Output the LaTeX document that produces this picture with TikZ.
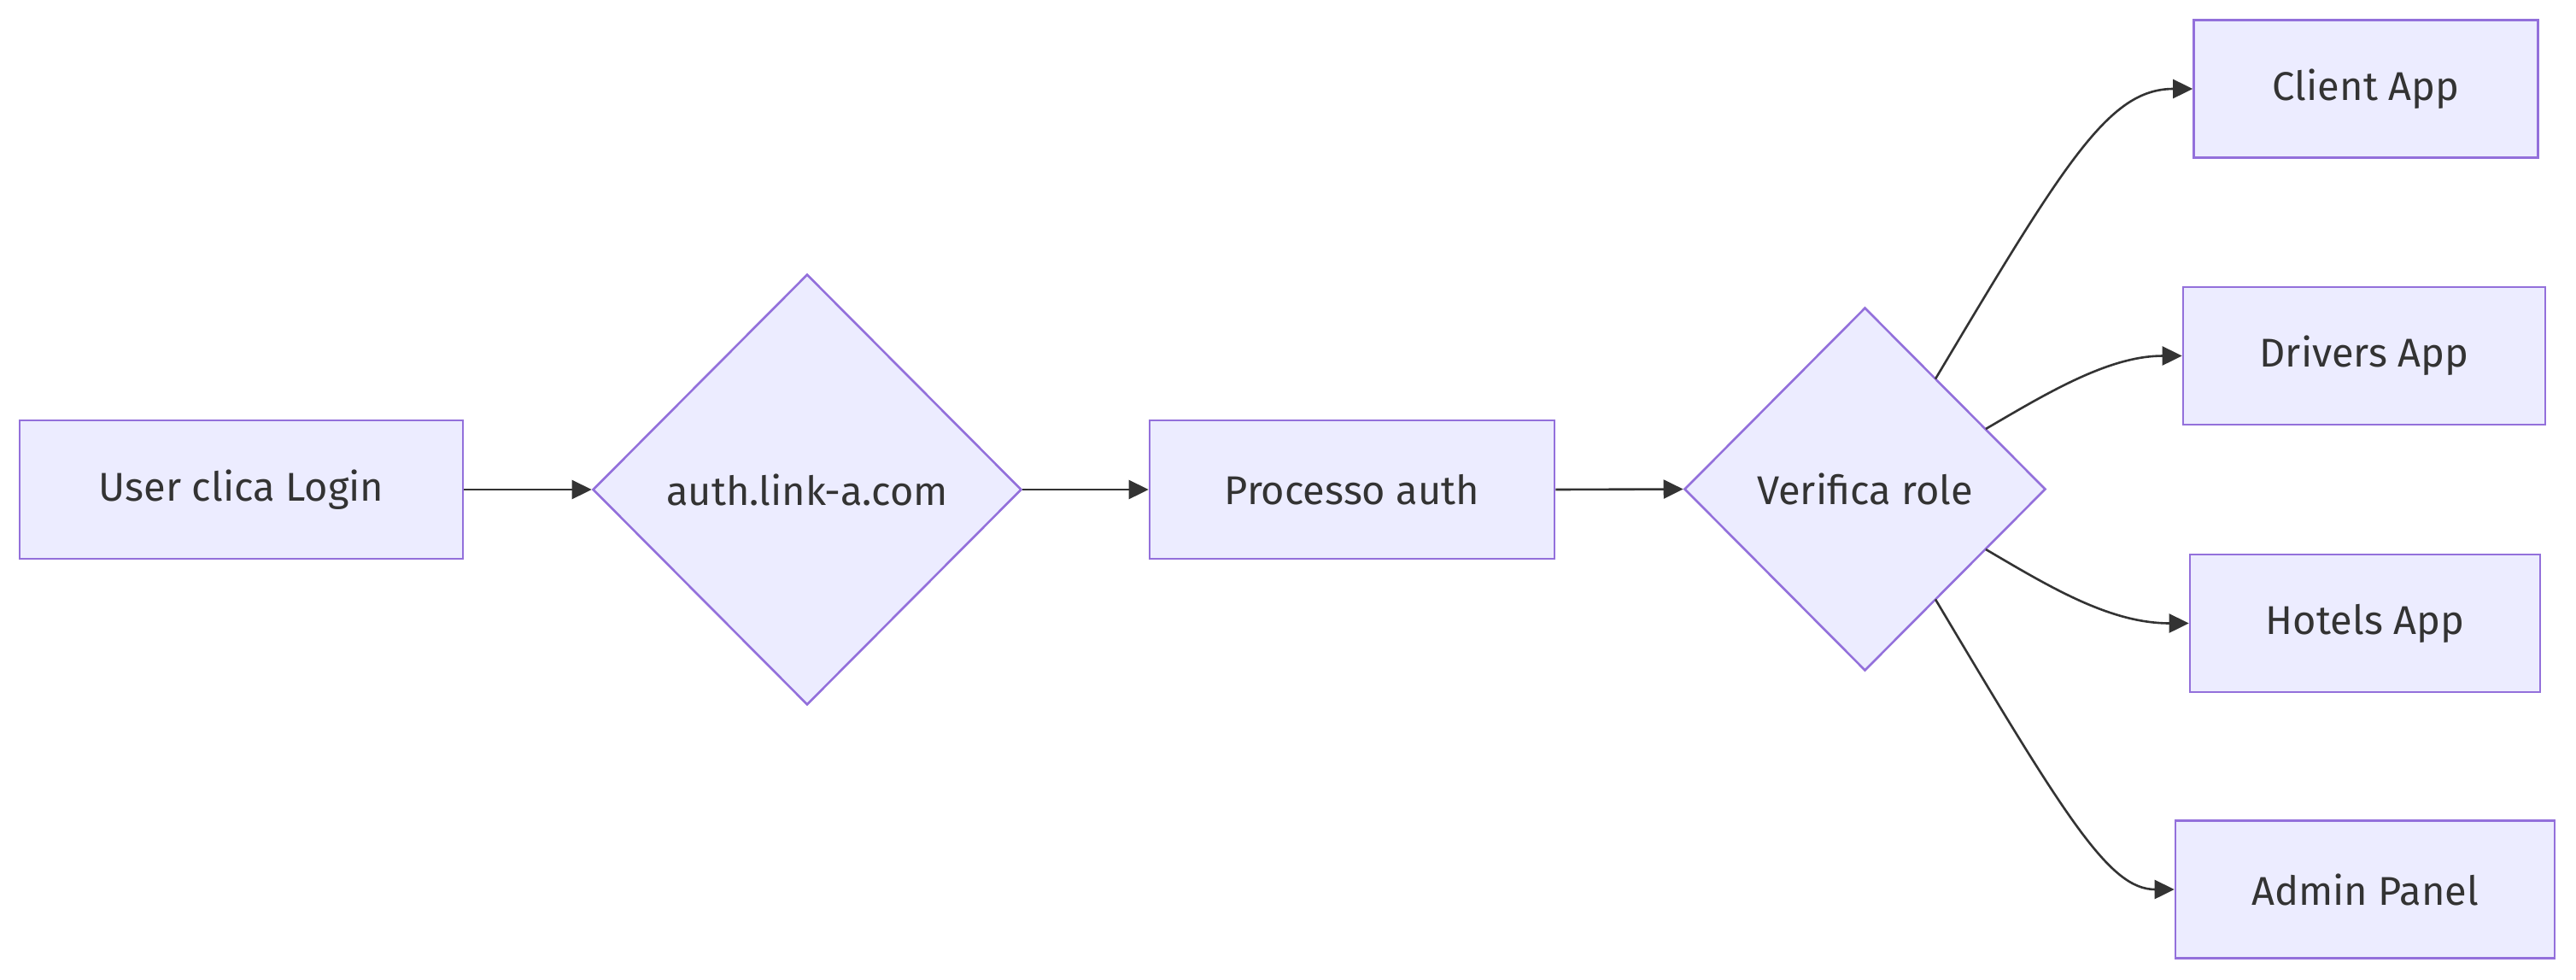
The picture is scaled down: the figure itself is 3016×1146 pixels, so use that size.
\documentclass[tikz,border=0pt]{standalone}
\usepackage{fontspec}
\setmainfont{Fira Sans}
\usetikzlibrary{shapes.geometric,arrows.meta}
\definecolor{nodefill}{HTML}{ECECFF}
\definecolor{nodeline}{HTML}{9370DB}
\definecolor{txt}{HTML}{333333}
\tikzset{
  boxnode/.style={draw=nodeline,fill=nodefill,line width=2.6pt,text=txt,inner sep=0pt,font=\fontsize{47}{56}\selectfont},
  decnode/.style={shape=diamond,draw=nodeline,fill=nodefill,line width=2.6pt,text=txt,inner sep=0pt,font=\fontsize{47}{56}\selectfont},
  edge/.style={draw=txt,line width=2.6pt,-{Triangle[length=23pt,width=22pt]}}
}
\begin{document}
\begin{tikzpicture}[x=1pt,y=-1pt]
\useasboundingbox (0,0) rectangle (3016,1146);
\node[boxnode,minimum width=519pt,minimum height=162pt] (login) at (282.5,573) {User clica Login};
\node[decnode,minimum width=502pt,minimum height=504pt] (auth) at (945,573) {auth.link-a.com};
\node[boxnode,minimum width=474pt,minimum height=162pt] (proc) at (1583,573) {Processo auth};
\node[decnode,minimum width=423pt,minimum height=425pt] (role) at (2183.5,572.5) {Verifica role};
\node[boxnode,minimum width=403pt,minimum height=161pt] (client) at (2770,104) {Client App};
\node[boxnode,minimum width=424pt,minimum height=161pt] (drivers) at (2768,416.5) {Drivers App};
\node[boxnode,minimum width=410pt,minimum height=161pt] (hotels) at (2769,729.5) {Hotels App};
\node[boxnode,minimum width=444pt,minimum height=161pt] (admin) at (2769,1041) {Admin Panel};
\draw[edge] (login.east) -- (auth.west);
\draw[edge] (auth.east) -- (proc.west);
\draw[edge] (proc.east) -- (role.west);
\coordinate (s1) at (2266,443.5);
\coordinate (s2) at (2325,502);
\coordinate (s3) at (2325,643);
\coordinate (s4) at (2266,701.5);
\draw[edge] (s1) .. controls (2420,185) and (2470,104) .. (client.west);
\draw[edge] (s2) .. controls (2400,458) and (2470,416.5) .. (drivers.west);
\draw[edge] (s3) .. controls (2400,687) and (2470,729.5) .. (hotels.west);
\draw[edge] (s4) .. controls (2420,960) and (2470,1041) .. (admin.west);
\end{tikzpicture}
\end{document}
